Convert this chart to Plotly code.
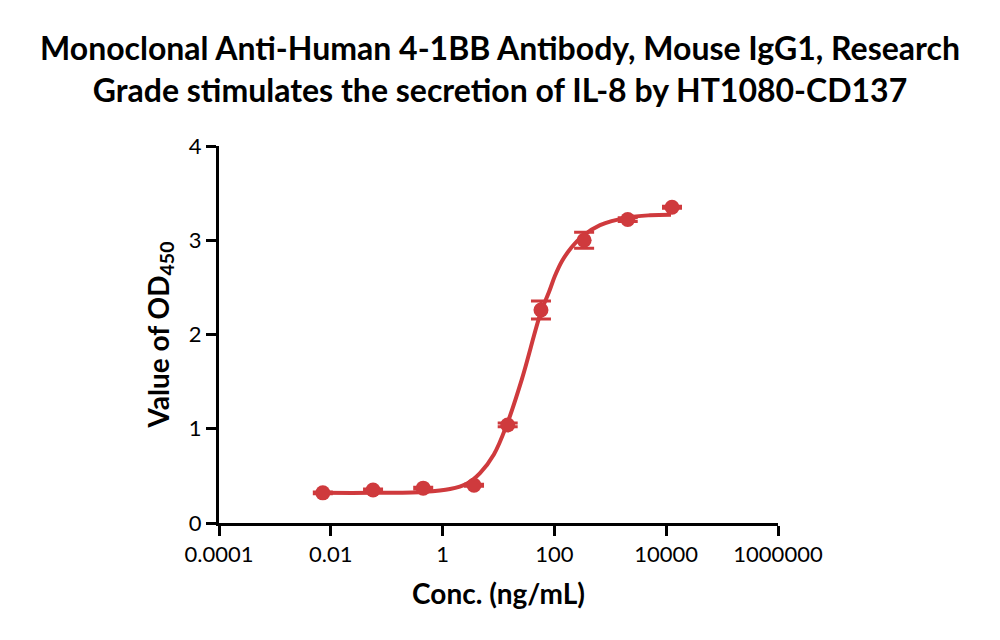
import plotly.graph_objects as go

# Measured points
conc = [0.0072, 0.057, 0.45, 3.65, 14.6, 57.5, 340, 2050, 12700]
od = [0.32, 0.35, 0.37, 0.40, 1.04, 2.26, 3.00, 3.22, 3.35]
od_err = [0.01, 0.01, 0.01, 0.01, 0.02, 0.095, 0.085, 0.02, 0.01]

# Fitted curve
fit_conc = [0.0070, 0.057, 0.446, 1.36, 2.74, 4.67, 8.31, 14.2, 26.3, 57.5,
            80, 102, 137, 200, 312, 655, 1990, 5130, 12200]
fit_od = [0.32, 0.32, 0.33, 0.36, 0.42, 0.53, 0.73, 1.05, 1.53, 2.24,
          2.45, 2.62, 2.78, 2.92, 3.04, 3.16, 3.24, 3.265, 3.27]

x_ticks = [0.0001, 0.01, 1, 100, 10000, 1000000]
x_tick_text = ["0.0001", "0.01", "1", "100", "10000", "1000000"]
y_ticks = [0, 1, 2, 3, 4]

color = "#CF3A3D"
font_family = "Lato, 'Open Sans', sans-serif"

fig = go.Figure()
fig.add_trace(go.Scatter(
    x=fit_conc, y=fit_od, mode="lines",
    line=dict(color=color, width=4, shape="spline", smoothing=1.0),
    hoverinfo="skip", showlegend=False,
))
fig.add_trace(go.Scatter(
    x=conc, y=od, mode="markers",
    marker=dict(color=color, size=15, symbol="circle"),
    error_y=dict(type="data", array=od_err, visible=True, color=color,
                 thickness=3, width=10),
    showlegend=False,
))

fig.update_layout(
    width=1000, height=640,
    paper_bgcolor="white", plot_bgcolor="white",
    margin=dict(l=219, r=222, t=146, b=117),
    font=dict(family=font_family, color="black"),
    title=dict(
        text="<b>Monoclonal Anti-Human 4-1BB Antibody, Mouse IgG1, Research<br>"
             "Grade stimulates the secretion of IL-8 by HT1080-CD137</b>",
        x=0.5, xanchor="center", y=0.906, yanchor="middle",
        font=dict(size=32, family=font_family, color="black"),
    ),
    xaxis=dict(
        type="log", range=[-4, 6],
        tickvals=x_ticks, ticktext=x_tick_text,
        showgrid=False, zeroline=False,
        showline=True, linecolor="black", linewidth=3,
        ticks="outside", ticklen=10, tickwidth=3, tickcolor="black",
        tickfont=dict(size=22, family=font_family),
        title=dict(text="<b>Conc. (ng/mL)</b>", font=dict(size=28, family=font_family), standoff=18),
    ),
    yaxis=dict(
        range=[0, 4],
        tickvals=y_ticks,
        showgrid=False, zeroline=False,
        showline=True, linecolor="black", linewidth=3,
        ticks="outside", ticklen=10, tickwidth=3, tickcolor="black",
        tickfont=dict(size=22, family=font_family),
        title=dict(text="<b>Value of OD<sub>450</sub></b>", font=dict(size=28, family=font_family), standoff=12),
    ),
)

fig.write_html("out.html")
